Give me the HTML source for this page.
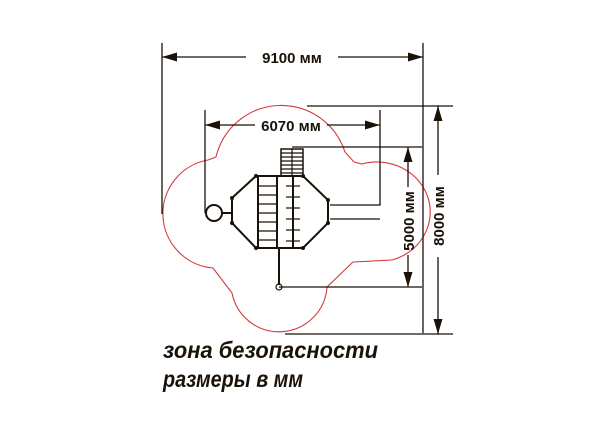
<!DOCTYPE html>
<html><head><meta charset="utf-8"><style>
html,body{margin:0;padding:0;background:#fff;}
svg{display:block;}
</style></head><body>
<svg width="614" height="437" viewBox="0 0 614 437" xmlns="http://www.w3.org/2000/svg">
<defs>
<marker id="a" viewBox="0 0 10 6" refX="10" refY="3" markerWidth="22" markerHeight="9" markerUnits="userSpaceOnUse" orient="auto-start-reverse"><path d="M0,0 L10,3 L0,6 Z" fill="#1a1208"/></marker>
</defs>
<g stroke="#1a1208" fill="none" stroke-width="1.3">
<path d="M213,268 A54.5,54.5 0 0 1 208,160 L216,157 A67,67 0 0 1 345,152 L354,162 L362,164 A50,47 0 0 1 392,260 L353,262 L327,287 A48,48 0 0 1 232,293 L213,268 Z" stroke="#d43a3a" stroke-width="1.1"/>
<line x1="162" y1="43" x2="162" y2="214"/>
<line x1="423" y1="43" x2="423" y2="333"/>
<line x1="162" y1="57" x2="246" y2="57" marker-start="url(#a)"/>
<line x1="338" y1="57" x2="423" y2="57" marker-end="url(#a)"/>
<line x1="205" y1="110" x2="205" y2="213"/>
<polyline points="380,110 380,205 330,205"/>
<line x1="330" y1="219" x2="380" y2="219"/>
<line x1="205" y1="125" x2="255" y2="125" marker-start="url(#a)"/>
<line x1="327" y1="125" x2="380" y2="125" marker-end="url(#a)"/>
<line x1="292" y1="147" x2="422" y2="147"/>
<line x1="279" y1="287" x2="422" y2="287"/>
<line x1="408" y1="147" x2="408" y2="187" marker-start="url(#a)"/>
<line x1="408" y1="255" x2="408" y2="287" marker-end="url(#a)"/>
<line x1="307" y1="106" x2="453" y2="106"/>
<line x1="285" y1="334" x2="453" y2="334"/>
<line x1="438" y1="106" x2="438" y2="175" marker-start="url(#a)"/>
<line x1="438" y1="257" x2="438" y2="334" marker-end="url(#a)"/>
<g stroke-width="2">
<polygon points="256,176 303,176 328,200 328,223 303,248 256,248 232,223 232,198"/>
<line x1="258" y1="176" x2="258" y2="248"/>
<line x1="277" y1="176" x2="277" y2="248"/>
<line x1="293" y1="176" x2="293" y2="248"/>
<line x1="232" y1="213" x2="222" y2="213"/>
<circle cx="214" cy="213" r="8"/>
<line x1="279" y1="248" x2="279" y2="285"/>
</g>
<g stroke-width="1.2">
<line x1="258" y1="186" x2="277" y2="186"/><line x1="258" y1="195" x2="277" y2="195"/><line x1="258" y1="204" x2="277" y2="204"/><line x1="258" y1="213" x2="277" y2="213"/><line x1="258" y1="222" x2="277" y2="222"/><line x1="258" y1="231" x2="277" y2="231"/><line x1="258" y1="240" x2="277" y2="240"/>
<line x1="286" y1="186" x2="300" y2="186"/><line x1="286" y1="197" x2="300" y2="197"/><line x1="286" y1="208" x2="300" y2="208"/><line x1="286" y1="219" x2="300" y2="219"/><line x1="286" y1="230" x2="300" y2="230"/><line x1="286" y1="241" x2="300" y2="241"/>
<rect x="281" y="149" width="22" height="27" stroke-width="1.5"/>
<line x1="292" y1="149" x2="292" y2="176"/>
<line x1="281" y1="153" x2="303" y2="153"/><line x1="281" y1="157" x2="303" y2="157"/><line x1="281" y1="161" x2="303" y2="161"/><line x1="281" y1="165" x2="303" y2="165"/><line x1="281" y1="169" x2="303" y2="169"/><line x1="281" y1="173" x2="303" y2="173"/>
<circle cx="279" cy="287" r="3"/>
</g>
<g fill="#1a1208" stroke="none">
<circle cx="256" cy="176" r="2"/><circle cx="303" cy="176" r="2"/><circle cx="328" cy="200" r="2"/><circle cx="328" cy="223" r="2"/><circle cx="303" cy="248" r="2"/><circle cx="256" cy="248" r="2"/><circle cx="232" cy="223" r="2"/><circle cx="232" cy="198" r="2"/>
</g>
</g>
<g font-family="Liberation Sans, sans-serif" font-weight="bold" fill="#1a1208" font-size="15">
<text x="292" y="63" text-anchor="middle">9100 мм</text>
<text x="291" y="131" text-anchor="middle">6070 мм</text>
<text transform="translate(414,221) rotate(-90)" text-anchor="middle">5000 мм</text>
<text transform="translate(444,216) rotate(-90)" text-anchor="middle">8000 мм</text>
<text x="163" y="358" font-size="23" font-style="italic" textLength="215" lengthAdjust="spacingAndGlyphs">зона безопасности</text>
<text x="163" y="387" font-size="23" font-style="italic" textLength="140" lengthAdjust="spacingAndGlyphs">размеры в мм</text>
</g>
</svg>
</body></html>
